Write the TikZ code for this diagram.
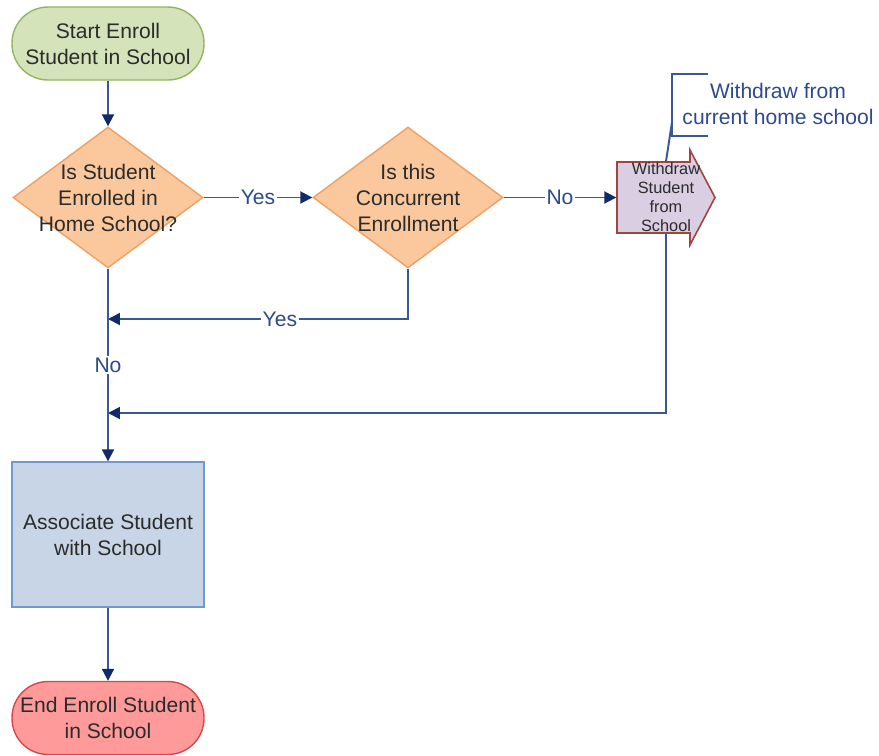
\documentclass[tikz,border=0pt]{standalone}
\usepackage{fontspec}
\setmainfont{Liberation Sans}
\usetikzlibrary{shapes.geometric,arrows.meta}

\definecolor{txt}{HTML}{2B2B2B}
\definecolor{startfill}{HTML}{D5E3BB}
\definecolor{startline}{HTML}{93B562}
\definecolor{decfill}{HTML}{FAC89C}
\definecolor{decline}{HTML}{EFA062}
\definecolor{wdfill}{HTML}{DACEE2}
\definecolor{wdline}{HTML}{A0443F}
\definecolor{procfill}{HTML}{C8D5E6}
\definecolor{procline}{HTML}{7199CB}
\definecolor{endfill}{HTML}{FF9A9A}
\definecolor{endline}{HTML}{D94848}
\definecolor{connline}{HTML}{3A5896}
\definecolor{tipcol}{HTML}{102A6C}
\definecolor{lbltxt}{HTML}{2C4A8C}

\tikzset{
  base/.style={font=\fontsize{12}{14.8}\selectfont, text=txt, align=center,
    line width=0.8pt, inner sep=0pt},
  terminal/.style={base, rectangle, rounded corners=0.72cm,
    minimum width=3.84cm, minimum height=1.46cm},
  startbox/.style={terminal, fill=startfill, draw=startline},
  endbox/.style={terminal, fill=endfill, draw=endline},
  % the diamond keeps a fixed size; its wording sits on top as a centred label
  decision/.style={base, diamond, minimum width=3.8cm,
    minimum height=2.82cm, fill=decfill, draw=decline,
    label={[base]center:#1}},
  process/.style={base, rectangle, minimum width=3.84cm, minimum height=2.9cm,
    fill=procfill, draw=procline},
  wdbox/.style={base, rectangle, minimum width=1.96cm, minimum height=1.42cm,
    font=\fontsize{9.3}{10.8}\selectfont},
  wdshape/.style={fill=wdfill, draw=wdline, line width=0.9pt},
  link/.style={line width=1.1pt, draw=connline},
  conn/.style={link, -{Triangle[length=0.24cm,width=0.24cm,color=tipcol]}},
  lbl/.style={fill=white, text=lbltxt, inner sep=1pt,
    font=\fontsize{12}{14.8}\selectfont},
  notetext/.style={text=lbltxt, align=center, inner sep=0pt,
    font=\fontsize{12}{14.8}\selectfont},
  noteline/.style={line width=1.1pt, draw=connline},
}

\begin{document}
\begin{tikzpicture}[x=0.02cm, y=-0.02cm]
\useasboundingbox (0,0) rectangle (879,755);

% annotation: bracket and its leader to the withdraw step
\node[notetext] (note) at (778,104) {Withdraw from\\current home school};
\draw[noteline] (708,74) -- (672,74) -- (672,136) -- (708,136);
\coordinate (lead) at (672,122);

% withdraw step drawn as a block arrow
\draw[wdshape] (617,162) -- (690,162) -- (690,150) -- (715,197.5)
  -- (690,245) -- (690,233) -- (617,233) -- cycle;
\node[wdbox] (wd) at (666,197.5) {Withdraw\\Student\\from\\School};
\draw[noteline] (lead) -- (wd.north);

% flow nodes
\node[startbox] (start) at (108,43.5) {Start Enroll\\Student in School};
\node[decision={Is Student\\Enrolled in\\Home School?}] (d1) at (108,197.5) {};
\node[decision={Is this\\Concurrent\\Enrollment}] (d2) at (408,197.5) {};
\node[process] (assoc) at (108,534.5) {Associate Student\\with School};
\node[endbox] (finish) at (108,718) {End Enroll Student\\in School};

\coordinate (j1) at (108,319);
\coordinate (j2) at (108,413);

% connectors
\draw[conn] (start) -- (d1);
\draw[conn] (d1.east) -- node[lbl]{Yes} (d2.west);
\draw[conn] (d2.east) -- node[lbl]{No} (wd.west);
\draw[conn] (d2.south) -- (d2.south |- j1) -- node[lbl, pos=0.427]{Yes} (j1);
\draw[conn] (d1.south) -- node[lbl, pos=0.5]{No} (assoc.north);
\draw[conn] (wd.south) -- (wd.south |- j2) -- (j2);
\draw[conn] (assoc) -- (finish);
\end{tikzpicture}
\end{document}
